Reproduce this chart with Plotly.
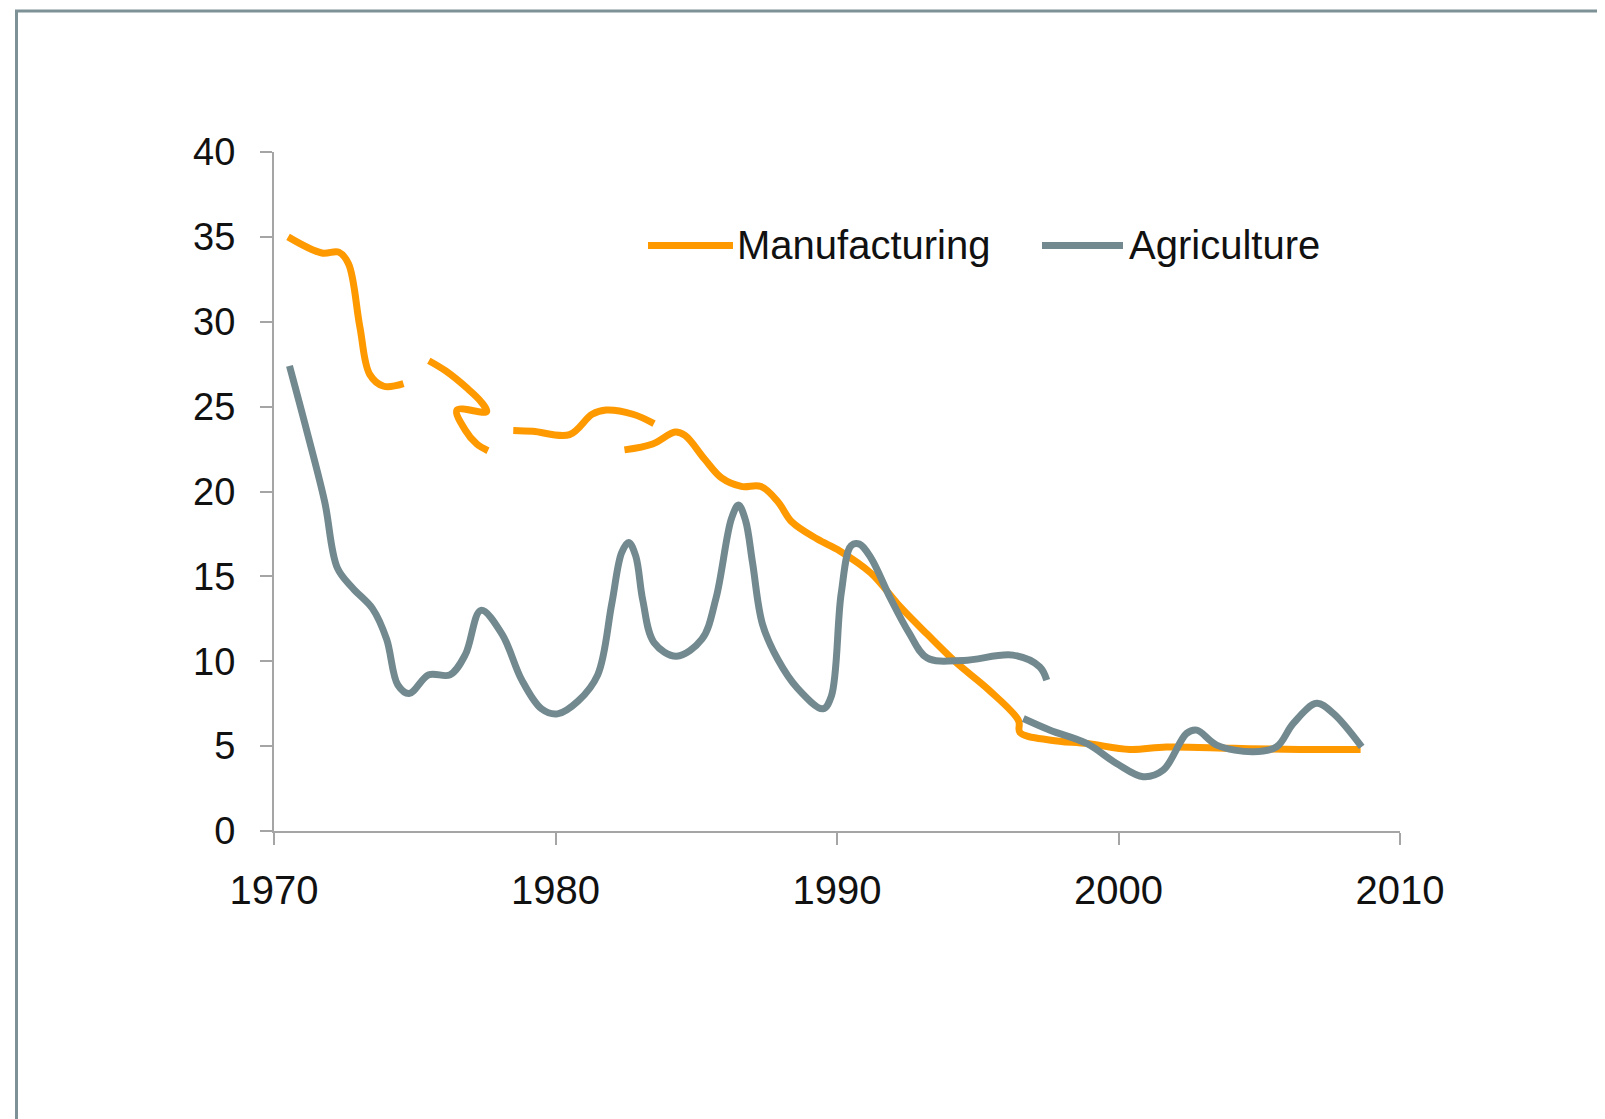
import plotly.graph_objects as go

# ---- data (None marks a gap in the line) ----
mfg_year = [1970.5, 1971.7, 1972.3, 1972.65, 1973.05, 1973.4, 1973.9, 1974.6, None,
            1975.5, 1976.1, 1976.85, 1977.35, 1977.55, 1976.5, 1976.8, 1977.2, 1977.6, None,
            1978.5, 1979.2, 1980.5, 1981.3, 1981.8, 1982.75, 1983.5, None,
            1982.45, 1983.45, 1984.25, 1984.6, 1985.3, 1985.9, 1986.6, 1987.3, 1987.9,
            1988.4, 1989.3, 1990.1, 1991.2, 1992.25, 1993.2, 1994.25, 1995.4, 1996.45,
            1996.5, 1997.6, 1998.9, 2000.4, 2001.7, 2004.1, 2006.45, 2008.6]
mfg_value = [35.0, 34.05, 34.1, 33.4, 29.7, 26.9, 26.2, 26.35, None,
             27.7, 27.1, 26.1, 25.3, 24.7, 24.8, 23.6, 22.8, 22.4, None,
             23.6, 23.55, 23.35, 24.55, 24.8, 24.55, 24.0, None,
             22.45, 22.8, 23.5, 23.3, 21.9, 20.8, 20.3, 20.3, 19.4,
             18.2, 17.2, 16.5, 15.2, 13.2, 11.6, 9.9, 8.3, 6.5,
             5.8, 5.35, 5.15, 4.8, 4.95, 4.87, 4.8, 4.8]

agr_year = [1970.55, 1971.16, 1971.8, 1972.25, 1972.8, 1973.5, 1974.0, 1974.4, 1974.8,
            1975.5, 1976.25, 1976.8, 1977.35, 1978.1, 1978.8, 1979.5, 1980.07, 1980.8,
            1981.5, 1982.0, 1982.35, 1982.6, 1982.85, 1983.1, 1983.5, 1984.3, 1985.2, 1985.7,
            1986.25, 1986.5, 1986.75, 1987.0, 1987.35, 1987.9, 1988.6, 1989.5, 1989.8,
            1990.15, 1990.5, 1990.8, 1991.2,
            1991.9, 1992.55, 1993.2, 1994.5, 1996.25, 1997.2, 1997.45, None,
            1996.62, 1997.57, 1998.87, 1999.93, 2000.88, 2001.59, 2002.42, 2002.78,
            2003.49, 2004.79, 2005.62, 2006.21, 2007.04, 2007.63, 2008.64]
agr_value = [27.4, 23.6, 19.4, 15.5, 14.3, 13.1, 11.3, 8.6, 8.1,
             9.2, 9.2, 10.4, 13.0, 11.6, 8.9, 7.2, 6.9, 7.65,
             9.2, 13.4, 16.4, 17.0, 16.2, 13.6, 11.1, 10.3, 11.3, 13.7,
             18.4, 19.2, 18.3, 15.8, 12.2, 10.1, 8.4, 7.2, 7.95,
             14.0, 16.8, 16.9, 16.1,
             13.7, 11.7, 10.2, 10.05, 10.36, 9.67, 8.89, None,
             6.63, 5.94, 5.16, 3.98, 3.2, 3.59, 5.75, 5.94,
             5.06, 4.67, 4.96, 6.34, 7.52, 6.93, 4.96]

x_ticks = [1970, 1980, 1990, 2000, 2010]
y_ticks = [0, 5, 10, 15, 20, 25, 30, 35, 40]
series_names = ["Manufacturing", "Agriculture"]

ORANGE = "rgb(255,153,0)"
GRAY = "rgb(114,137,143)"
FONT = "Liberation Sans, Arial, sans-serif"

OFF = 8  # page body margin offset
W, H = 1605 - OFF, 1119 - OFF
L, R, T, B = 274 - OFF, 1400 - OFF, 151.5 - OFF, 831 - OFF


def px(xp):
    # screen pixel x -> paper
    return (xp - OFF - L) / (R - L)


def py(yp):
    # screen pixel y -> paper
    return (B - (yp - OFF)) / (B - T)


fig = go.Figure()
fig.add_trace(go.Scatter(x=mfg_year, y=mfg_value, mode="lines", name=series_names[0],
                         line=dict(color=ORANGE, width=7, shape="spline", smoothing=1.0),
                         connectgaps=False, showlegend=False))
fig.add_trace(go.Scatter(x=agr_year, y=agr_value, mode="lines", name=series_names[1],
                         line=dict(color=GRAY, width=7, shape="spline", smoothing=1.0),
                         connectgaps=False, showlegend=False))

shapes = [
    # outer frame (top and left edges visible)
    dict(type="rect", xref="paper", yref="paper", x0=px(16.5), y0=py(10.5), x1=px(1750), y1=py(1250),
         line=dict(color="rgb(125,145,150)", width=3), fillcolor="rgba(0,0,0,0)", layer="below"),
    # legend samples
    dict(type="line", xref="paper", yref="paper", x0=px(648), x1=px(733), y0=py(245), y1=py(245),
         line=dict(color=ORANGE, width=7)),
    dict(type="line", xref="paper", yref="paper", x0=px(1042), x1=px(1123), y0=py(245), y1=py(245),
         line=dict(color=GRAY, width=7)),
]
annotations = [
    dict(xref="paper", yref="paper", x=px(735), y=py(245), text=series_names[0], showarrow=False,
         xanchor="left", yanchor="middle", font=dict(family=FONT, size=40, color="#111")),
    dict(xref="paper", yref="paper", x=px(1127), y=py(245), text=series_names[1], showarrow=False,
         xanchor="left", yanchor="middle", font=dict(family=FONT, size=40, color="#111")),
]

fig.update_layout(
    width=W, height=H,
    margin=dict(l=L, r=W - R, t=T, b=H - B, pad=0),
    paper_bgcolor="white", plot_bgcolor="white",
    shapes=shapes, annotations=annotations,
    font=dict(family=FONT, color="#111"),
)
fig.update_xaxes(range=[1970, 2010], tickvals=x_ticks, showgrid=False, zeroline=False,
                 showline=True, linecolor="rgb(165,165,165)", linewidth=2,
                 ticks="outside", ticklen=12, tickwidth=2, tickcolor="rgb(165,165,165)",
                 tickfont=dict(family=FONT, size=40, color="#111"), ticklabelstandoff=11)
fig.update_yaxes(range=[0, 40], tickvals=y_ticks, showgrid=False, zeroline=False,
                 showline=True, linecolor="rgb(165,165,165)", linewidth=2,
                 ticks="outside", ticklen=12, tickwidth=2, tickcolor="rgb(165,165,165)",
                 tickfont=dict(family=FONT, size=38, color="#111"), ticklabelstandoff=17)

fig.write_html("out.html")
